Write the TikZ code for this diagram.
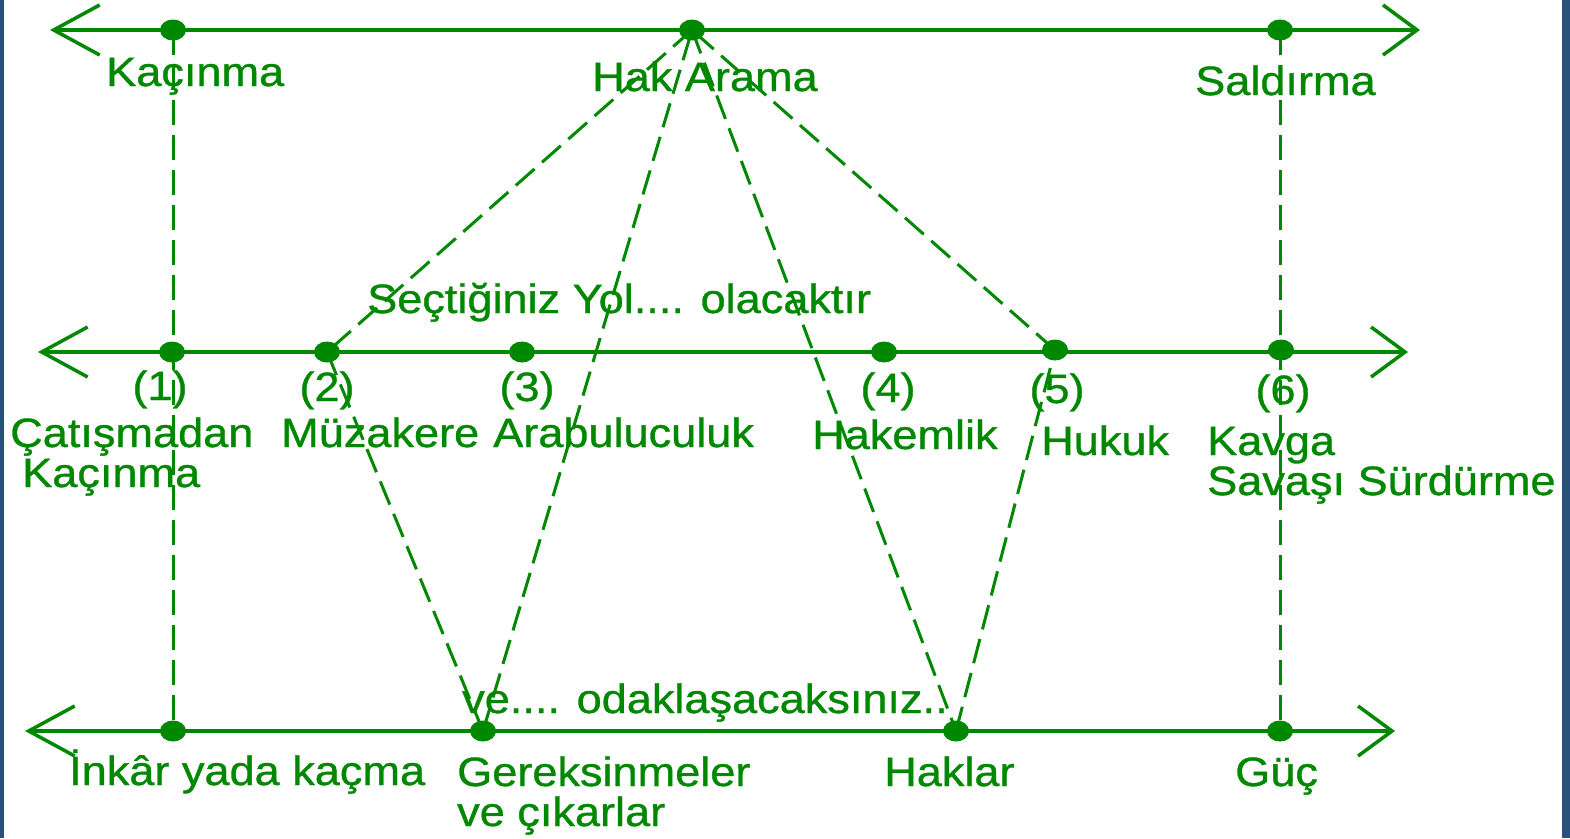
\documentclass[tikz,border=0pt]{standalone}
\usepackage{fontspec}
\setmainfont{Liberation Sans}[FakeStretch=1.1,FakeBold=0.8]
\usetikzlibrary{arrows.meta,shapes.geometric}
\definecolor{gr}{RGB}{0,136,0}
\definecolor{sidebar}{RGB}{40,80,125}
\begin{document}
\begin{tikzpicture}[x=1pt,y=-1pt,
  lbl/.style={anchor=base west, inner sep=0pt, text=gr, font=\fontsize{41}{46}\selectfont},
  num/.style={anchor=base, inner sep=0pt, text=gr, font=\fontsize{41}{46}\selectfont},
  dot/.style={ellipse, fill=gr, minimum width=26pt, minimum height=21pt, inner sep=0pt},
  axisline/.style={draw=gr, line width=3.5pt, {Straight Barb[length=46pt,width=50pt]}-{Straight Barb[length=34pt,width=50pt]}},
  dsh/.style={draw=gr, line width=3pt, dash pattern=on 25pt off 10pt}]
\useasboundingbox (0,0) rectangle (1570,838);
\fill[white] (0,0) rectangle (1570,838);
\fill[sidebar] (0,0) rectangle (4,838);
\fill[sidebar] (1562,0) rectangle (1570,838);

% axis end points
\coordinate (tL) at (50,30);  \coordinate (tR) at (1420,30);
\coordinate (mL) at (38,352); \coordinate (mR) at (1408,352);
\coordinate (bL) at (25,731); \coordinate (bR) at (1395,731);

% dots
\node[dot] (t1) at (173,30) {};
\node[dot] (hak) at (692,30) {};
\node[dot] (t3) at (1280,30) {};
\node[dot] (m1) at (172,352) {};
\node[dot] (m2) at (327,352) {};
\node[dot] (m3) at (522,352) {};
\node[dot] (m4) at (884,352) {};
\node[dot] (m5) at (1055,350) {};
\node[dot] (m6) at (1281,350) {};
\node[dot] (b1) at (173,731) {};
\node[dot] (b2) at (483,731) {};
\node[dot] (b3) at (956,731) {};
\node[dot] (b4) at (1280,731) {};

% axes
\draw[axisline] (tL) -- (tR);
\draw[axisline] (mL) -- (mR);
\draw[axisline] (bL) -- (bR);

% dashed connectors
\draw[dsh] (t1.center) -- (b1.center);
\draw[dsh] (t3.center) -- (b4.center);
\draw[dsh] (hak.center) -- (m2.center);
\draw[dsh] (m2.center) -- (b2.center);
\draw[dsh] (b2.center) -- (hak.center);
\draw[dsh] (hak.center) -- (b3.center);
\draw[dsh] (b3.center) -- (m5.center);
\draw[dsh] (m5.center) -- (hak.center);

% labels
\node[lbl] (kac) at (106,86) {Kaçınma};
\node[lbl] (hakl) at (592,91) {Hak Arama};
\node[lbl] (sal) at (1195,95) {Saldırma};
\node[lbl] (sec) at (367,313) {Seçtiğiniz Yol.... olacaktır};

\node[num] (n1) at (160,400) {(1)};
\node[num] (n2) at (327,401) {(2)};
\node[num] (n3) at (527,401) {(3)};
\node[num] (n4) at (888,402) {(4)};
\node[num] (n5) at (1057,403) {(5)};
\node[num] (n6) at (1283,404) {(6)};

\node[lbl] (cat1) at (10,447) {Çatışmadan};
\node[lbl] (cat2) at (22,487) {Kaçınma};
\node[lbl] (muz) at (281,447) {Müzakere};
\node[lbl] (arb) at (493,447) {Arabuluculuk};
\node[lbl] (hkm) at (812,449) {Hakemlik};
\node[lbl] (huk) at (1041,455) {Hukuk};
\node[lbl] (kav1) at (1207,455) {Kavga};
\node[lbl] (kav2) at (1207,495) {Savaşı Sürdürme};

\node[lbl] (ve) at (462,713) {ve.... odaklaşacaksınız..};
\node[lbl] (ink) at (69,785) {İnkâr yada kaçma};
\node[lbl] (ger1) at (457,786) {Gereksinmeler};
\node[lbl] (ger2) at (457,826) {ve çıkarlar};
\node[lbl] (hkl) at (884,786) {Haklar};
\node[lbl] (guc) at (1235,786) {Güç};
\end{tikzpicture}
\end{document}
